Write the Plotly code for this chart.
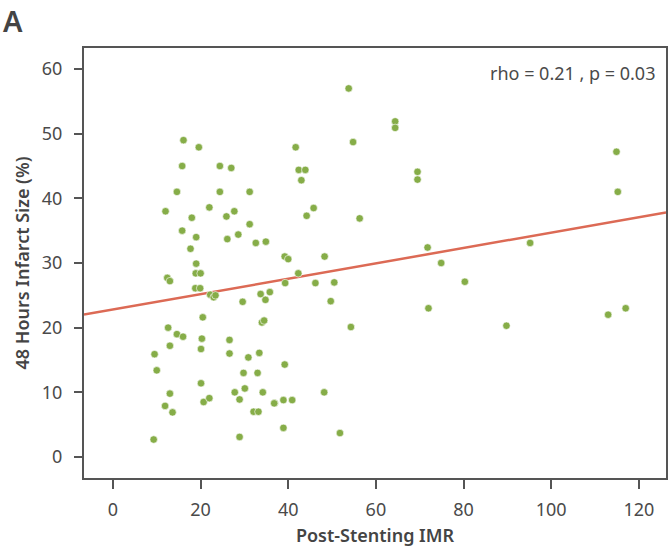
import plotly.graph_objects as go
import numpy as np

# Post-stenting IMR (x) and 48h infarct size % (y)
imr = [16.1, 19.6, 15.8, 24.4, 27.0, 14.6, 24.4, 31.2, 12.0, 22.0, 18.0, 25.9, 27.7,
       15.8, 19.0, 31.2, 26.1, 28.6, 32.6, 34.9, 17.7,
       19.0, 18.9, 20.0, 12.4, 13.0, 18.8, 19.9, 22.2, 23.0, 23.4, 29.6, 33.7, 35.8, 34.8,
       20.5, 34.0, 34.5, 12.6, 14.6, 16.0, 20.3, 26.6, 13.0, 20.1, 9.5, 26.6, 30.9, 33.4,
       10.0, 29.8, 33.0, 20.1, 30.1, 13.0, 27.8, 34.2, 36.9, 28.9, 20.7, 22.0, 11.9, 13.6,
       32.1, 33.2, 9.3, 28.9,
       53.8, 64.4, 64.4, 54.8, 41.7, 42.4, 43.9, 43.0, 69.5, 69.5, 45.8, 44.2, 56.3, 71.8,
       39.2, 40.0, 48.3, 74.9, 42.3, 39.3, 46.2, 50.5, 49.7, 80.3, 72.0, 54.3, 39.2, 48.2,
       36.8, 38.9, 40.9, 38.9, 51.8,
       114.9, 115.2, 95.2, 89.8, 113.0, 117.0]
infarct = [49.0, 47.9, 45.0, 45.0, 44.7, 41.0, 41.0, 41.0, 38.0, 38.6, 37.0, 37.2, 38.0,
           35.0, 34.0, 36.0, 33.7, 34.4, 33.1, 33.3, 32.2,
           29.9, 28.4, 28.4, 27.7, 27.2, 26.1, 26.1, 25.1, 24.7, 25.0, 24.0, 25.2, 25.5, 24.3,
           21.6, 20.8, 21.1, 20.0, 19.0, 18.6, 18.3, 18.1, 17.2, 16.7, 15.9, 16.0, 15.4, 16.1,
           13.4, 13.0, 13.0, 11.4, 10.6, 9.8, 10.0, 10.0, 8.3, 8.9, 8.5, 9.1, 7.9, 6.9,
           7.0, 7.0, 2.7, 3.1,
           57.0, 51.9, 50.9, 48.7, 47.9, 44.4, 44.4, 42.8, 44.1, 42.9, 38.5, 37.3, 36.9, 32.4,
           31.0, 30.6, 31.0, 30.0, 28.4, 26.9, 26.9, 27.0, 24.1, 27.1, 23.0, 20.1, 14.3, 10.0,
           8.3, 8.8, 8.8, 4.5, 3.7,
           47.2, 41.0, 33.1, 20.3, 22.0, 23.0]

# Regression line
fit_x = [-6.6, 126.2]
fit_intercept = 22.8
fit_slope = 0.119
fit_y = [fit_intercept + fit_slope * v for v in fit_x]

x_ticks = [0, 20, 40, 60, 80, 100, 120]
y_ticks = [0, 10, 20, 30, 40, 50, 60]

font_family = "Noto Sans, Open Sans, sans-serif"
axis_color = "#555555"
text_color = "#4a4a4a"

fig = go.Figure()
fig.add_trace(go.Scatter(
    x=fit_x, y=fit_y, mode="lines",
    line=dict(color="#dc6a55", width=2.5), hoverinfo="skip", showlegend=False))
fig.add_trace(go.Scatter(
    x=imr, y=infarct, mode="markers",
    marker=dict(color="#86ad48", size=7.5, line=dict(color="white", width=0.6)),
    showlegend=False))

fig.update_xaxes(
    range=[-6.6, 126.2], tickvals=x_ticks, showgrid=False, zeroline=False,
    showline=True, linecolor=axis_color, linewidth=2, mirror=True,
    ticks="outside", ticklen=9, tickwidth=2, tickcolor=axis_color,
    ticklabelstandoff=5,
    tickfont=dict(size=18, color=text_color, family=font_family),
    title=dict(text="Post-Stenting IMR", standoff=10,
               font=dict(size=18, color="#444444", family=font_family, weight=600)))
fig.update_yaxes(
    range=[-3.25, 63.25], tickvals=y_ticks, showgrid=False, zeroline=False,
    showline=True, linecolor=axis_color, linewidth=2, mirror=True,
    ticks="outside", ticklen=8, tickwidth=2, tickcolor=axis_color,
    ticklabelstandoff=8,
    tickfont=dict(size=18, color=text_color, family=font_family),
    title=dict(text="48 Hours Infarct Size (%)", standoff=8,
               font=dict(size=18, color="#444444", family=font_family, weight=600)))

fig.add_annotation(text="rho = 0.21 , p = 0.03", xref="paper", yref="paper",
                   x=0.985, y=0.975, xanchor="right", yanchor="top", showarrow=False,
                   font=dict(size=18, color=text_color, family=font_family))
fig.add_annotation(text="A", xref="paper", yref="paper",
                   x=-0.142, y=1.115, xanchor="left", yanchor="top", showarrow=False,
                   font=dict(size=29, color="#444444", family=font_family, weight=600))

fig.update_layout(
    width=669, height=554,
    margin=dict(l=84, r=1, t=48, b=76),
    plot_bgcolor="white", paper_bgcolor="white",
    font=dict(family=font_family, color=text_color))

fig.write_html("out.html")
